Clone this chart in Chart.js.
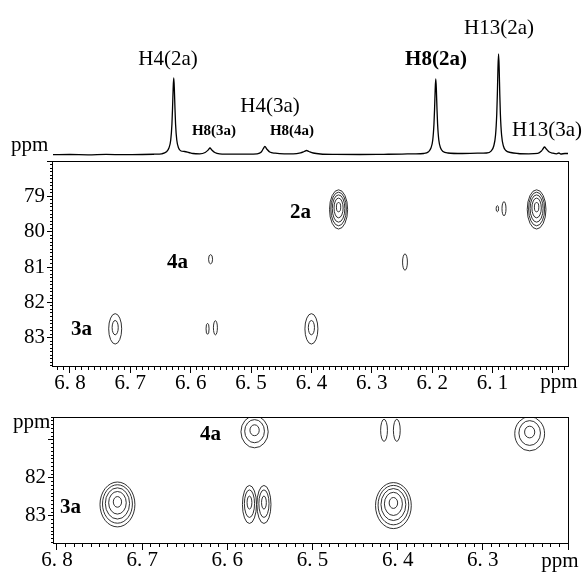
<!DOCTYPE html>
<html>
<head>
<meta charset="utf-8">
<script src="https://cdn.jsdelivr.net/npm/chart.js@4.4.0/dist/chart.umd.min.js"></script>
<style>
html, body { margin: 0; padding: 0; background: #fff; }
#wrap { position: relative; width: 585px; height: 572px; }
canvas { position: absolute; left: 0; }
</style>
</head>
<body>
<div id="wrap">
  <canvas id="spec" width="585" height="160" style="top:0px"></canvas>
  <canvas id="mid" width="585" height="240" style="top:156px"></canvas>
  <canvas id="low" width="585" height="172" style="top:400px"></canvas>
</div>
<script>
// 1D proton trace (ppm, relative intensity)
const specPpm = [6.828, 6.800, 6.770, 6.740, 6.710, 6.680, 6.660, 6.648, 6.640, 6.636, 6.633, 6.631, 6.630, 6.629, 6.628,
  6.627, 6.626, 6.625, 6.623, 6.620, 6.616, 6.610, 6.603, 6.596, 6.585, 6.576, 6.571, 6.568, 6.565, 6.560, 6.552,
  6.530, 6.505, 6.490, 6.483, 6.480, 6.477, 6.474, 6.469, 6.460, 6.445, 6.430, 6.418, 6.412, 6.408, 6.404, 6.397,
  6.385, 6.360, 6.320, 6.280, 6.250, 6.230, 6.214, 6.206, 6.202, 6.199, 6.197, 6.196, 6.195, 6.194, 6.193, 6.192,
  6.191, 6.189, 6.186, 6.182, 6.174, 6.150, 6.125, 6.110, 6.102, 6.098, 6.095, 6.093, 6.092, 6.091, 6.090, 6.089,
  6.088, 6.087, 6.085, 6.082, 6.078, 6.070, 6.058, 6.040, 6.025, 6.019, 6.016, 6.014, 6.011, 6.006, 6.000, 5.994,
  5.990, 5.987, 5.980, 5.975];
const specInt = [0.3, 0.5, 0.2, 0.6, 0.3, 0.5, 0.8, 1.2, 3.2, 7, 15, 31, 47, 66, 77,
  66, 47, 31, 15, 7, 4, 3.5, 2.5, 1.5, 1.2, 2.5, 5, 7, 5, 2.5, 1.2,
  0.8, 0.8, 1.2, 3, 6, 8.5, 6, 3, 1.8, 1.2, 1.2, 2.2, 3.5, 4.5, 3.5, 2,
  1, 0.6, 0.5, 0.7, 0.9, 1.2, 1.5, 3.2, 7, 15, 31, 46, 65, 76, 65, 46,
  31, 15, 7, 3.5, 2, 1.5, 1.8, 2, 4.2, 9, 20, 41, 61, 87, 101, 87,
  61, 41, 20, 9, 4.5, 2.5, 1.5, 1.2, 1.6, 4, 6.5, 8, 6, 3, 1.8, 1.2,
  2, 1, 1.5, 1.5];

// cross peaks, upper 2D panel: centre (ppm), outer contour width/height (ppm), contour count
const midX = [6.725, 6.567, 6.572, 6.559, 6.355, 6.027, 6.092, 6.081, 6.245, 6.400];
const midY = [82.75, 80.78, 82.75, 82.72, 79.37, 79.37, 79.35, 79.35, 80.86, 82.75];
const midW = [0.0215, 0.0066, 0.005, 0.0066, 0.030, 0.031, 0.004, 0.0066, 0.008, 0.0215];
const midH = [0.86, 0.26, 0.31, 0.40, 1.11, 1.11, 0.17, 0.40, 0.46, 0.86];
const midLevels = [2, 1, 1, 1, 5, 5, 1, 1, 1, 2];

// cross peaks, lower (expanded) 2D panel
const lowX = [6.729, 6.568, 6.574, 6.557, 6.416, 6.401, 6.245, 6.405];
const lowY = [82.70, 80.79, 82.70, 82.70, 80.75, 80.75, 80.84, 82.73];
const lowW = [0.041, 0.032, 0.0165, 0.0165, 0.008, 0.008, 0.035, 0.042];
const lowH = [1.18, 0.84, 1.0, 1.0, 0.58, 0.58, 0.9, 1.21];
const lowLevels = [5, 3, 3, 3, 1, 1, 3, 5];

// axis ranges
const midRangeX = [5.975, 6.828], midRangeY = [78.0, 83.83];
const lowRangeX = [6.2, 6.8035], lowRangeY = [80.4, 83.74];

const serif = "'Liberation Serif', 'Times New Roman', 'DejaVu Serif', serif";

const textPlugin = {
  id: 'texts',
  afterDraw(chart, args, opts) {
    const ctx = chart.ctx;
    ctx.save();
    ctx.fillStyle = '#000';
    ctx.textBaseline = 'alphabetic';
    (opts.items || []).forEach(t => {
      ctx.font = (t.bold ? 'bold ' : '') + t.size + 'px ' + serif;
      ctx.textAlign = t.align || 'center';
      ctx.fillText(t.text, t.x, t.y);
    });
    ctx.restore();
  }
};

const framePlugin = {
  id: 'frame',
  afterDraw(chart) {
    const {ctx, chartArea: a} = chart;
    ctx.save();
    ctx.strokeStyle = '#000';
    ctx.lineWidth = 1;
    ctx.strokeRect(Math.round(a.left) - 0.5, Math.round(a.top) + 0.5,
      Math.round(a.width) + 1, Math.round(a.height) - 1);
    ctx.restore();
  }
};

// nested contour rings around each cross peak, inner rings sitting a little higher
const contourPlugin = {
  id: 'contours',
  afterDatasetsDraw(chart) {
    const {ctx, chartArea: a, scales: {x, y}} = chart;
    ctx.save();
    ctx.beginPath();
    ctx.rect(a.left, a.top, a.width, a.height);
    ctx.clip();
    ctx.strokeStyle = '#1a1a1a';
    ctx.lineWidth = 0.9;
    chart.data.datasets.forEach(ds => {
      ds.data.forEach((p, i) => {
        const cx = x.getPixelForValue(p.x), cy = y.getPixelForValue(p.y);
        const rx = Math.abs(x.getPixelForValue(p.x + ds.widths[i] / 2) - cx);
        const ry = Math.abs(y.getPixelForValue(p.y + ds.heights[i] / 2) - cy);
        const n = ds.levels[i];
        for (let k = 1; k <= n; k++) {
          const f = n === 1 ? 1 : Math.pow((k - 0.6) / (n - 0.6), 0.6);
          const dy = (1 - f) * ry * 0.15;
          ctx.beginPath();
          ctx.ellipse(cx, cy - dy, Math.max(rx * f, 1.2), Math.max(ry * f, 1.2), 0, 0, Math.PI * 2);
          ctx.stroke();
        }
      });
    });
    ctx.restore();
  }
};

function tickGrid(len) {
  return { display: true, drawOnChartArea: false, drawTicks: true, tickLength: len, color: '#000', lineWidth: 1 };
}
function fixSize(size, horizontal) {
  return s => {
    if (horizontal) s.height = size; else s.width = size;
    s.paddingTop = s.paddingBottom = s.paddingLeft = s.paddingRight = 0;
  };
}
function panelScales(xr, yr, xSize, ySize, xBlank, yBlank) {
  const font = { family: serif, size: 21, lineHeight: 1 };
  return {
    x: {
      type: 'linear', reverse: true, position: 'bottom', weight: 1, min: xr[0], max: xr[1],
      ticks: {
        stepSize: 0.1, includeBounds: false, autoSkip: false, maxRotation: 0, padding: 0, color: '#000', font,
        callback: v => xBlank.some(b => Math.abs(b - v) < 1e-6) ? '' : v.toFixed(1).replace('.', '. ')
      },
      grid: tickGrid(3), border: { display: false }, afterFit: fixSize(xSize, true)
    },
    xm: {
      type: 'linear', reverse: true, position: 'bottom', weight: 0, min: xr[0], max: xr[1],
      ticks: { display: false, stepSize: 0.01, includeBounds: false, autoSkip: false },
      grid: tickGrid(3), border: { display: false }, afterFit: fixSize(3, true)
    },
    y: {
      type: 'linear', reverse: true, position: 'left', weight: 1, min: yr[0], max: yr[1],
      ticks: {
        stepSize: 1, includeBounds: false, autoSkip: false, padding: 2, color: '#000', font,
        callback: v => yBlank.some(b => Math.abs(b - v) < 1e-6) ? '' : String(Math.round(v))
      },
      grid: tickGrid(3), border: { display: false }, afterFit: fixSize(ySize, false)
    },
    ym: {
      type: 'linear', reverse: true, position: 'left', weight: 0, min: yr[0], max: yr[1],
      ticks: { display: false, stepSize: 0.1, includeBounds: false, autoSkip: false },
      grid: tickGrid(3), border: { display: false }, afterFit: fixSize(3, false)
    }
  };
}

const common = {
  responsive: false, animation: false, devicePixelRatio: 1,
  events: [],
};

// top: 1D spectrum
new Chart(document.getElementById('spec'), {
  type: 'line',
  data: {
    datasets: [{
      data: specPpm.map((x, i) => ({ x, y: specInt[i] })),
      borderColor: '#000', borderWidth: 1.3, pointRadius: 0,
      cubicInterpolationMode: 'monotone', fill: false
    }]
  },
  options: {
    ...common,
    layout: { padding: { left: 53, right: 17, top: 0, bottom: 0 } },
    plugins: {
      legend: { display: false }, tooltip: { enabled: false },
      texts: {
        items: [
          { text: 'H4(2a)', x: 168, y: 65, size: 21 },
          { text: 'H8(2a)', x: 436, y: 65, size: 21, bold: true },
          { text: 'H13(2a)', x: 499, y: 34, size: 21 },
          { text: 'H4(3a)', x: 270, y: 112, size: 21 },
          { text: 'H8(3a)', x: 214, y: 135, size: 15, bold: true },
          { text: 'H8(4a)', x: 292, y: 135, size: 15, bold: true },
          { text: 'H13(3a)', x: 547, y: 136, size: 21 },
          { text: 'ppm', x: 11, y: 151, size: 21, align: 'left' }
        ]
      }
    },
    scales: {
      x: { type: 'linear', reverse: true, min: midRangeX[0], max: midRangeX[1], display: false },
      y: { type: 'linear', min: -5, max: 155, display: false }
    }
  },
  plugins: [textPlugin]
});

// middle: full 2D region
new Chart(document.getElementById('mid'), {
  type: 'scatter',
  data: {
    datasets: [{
      data: midX.map((x, i) => ({ x, y: midY[i] })),
      widths: midW, heights: midH, levels: midLevels,
      pointRadius: 0, showLine: false
    }]
  },
  options: {
    ...common,
    layout: { padding: { left: 0, right: 17, top: 5, bottom: 0 } },
    plugins: {
      legend: { display: false }, tooltip: { enabled: false },
      texts: {
        items: [
          { text: '2a', x: 290, y: 62, size: 21, bold: true, align: 'left' },
          { text: '4a', x: 167, y: 112, size: 21, bold: true, align: 'left' },
          { text: '3a', x: 71, y: 179, size: 21, bold: true, align: 'left' },
          { text: 'ppm', x: 559, y: 232, size: 21 }
        ]
      }
    },
    scales: panelScales(midRangeX, midRangeY, 26, 50, [6.0], [78])
  },
  plugins: [contourPlugin, framePlugin, textPlugin]
});

// bottom: expanded 2D region
new Chart(document.getElementById('low'), {
  type: 'scatter',
  data: {
    datasets: [{
      data: lowX.map((x, i) => ({ x, y: lowY[i] })),
      widths: lowW, heights: lowH, levels: lowLevels,
      pointRadius: 0, showLine: false
    }]
  },
  options: {
    ...common,
    layout: { padding: { left: 0, right: 17, top: 17, bottom: 0 } },
    plugins: {
      legend: { display: false }, tooltip: { enabled: false },
      texts: {
        items: [
          { text: '4a', x: 200, y: 40, size: 21, bold: true, align: 'left' },
          { text: '3a', x: 60, y: 113, size: 21, bold: true, align: 'left' },
          { text: 'ppm', x: 13, y: 28, size: 21, align: 'left' },
          { text: 'ppm', x: 560, y: 167, size: 21 }
        ]
      }
    },
    scales: panelScales(lowRangeX, lowRangeY, 25, 51, [6.2], [81])
  },
  plugins: [contourPlugin, framePlugin, textPlugin]
});
</script>
</body>
</html>
